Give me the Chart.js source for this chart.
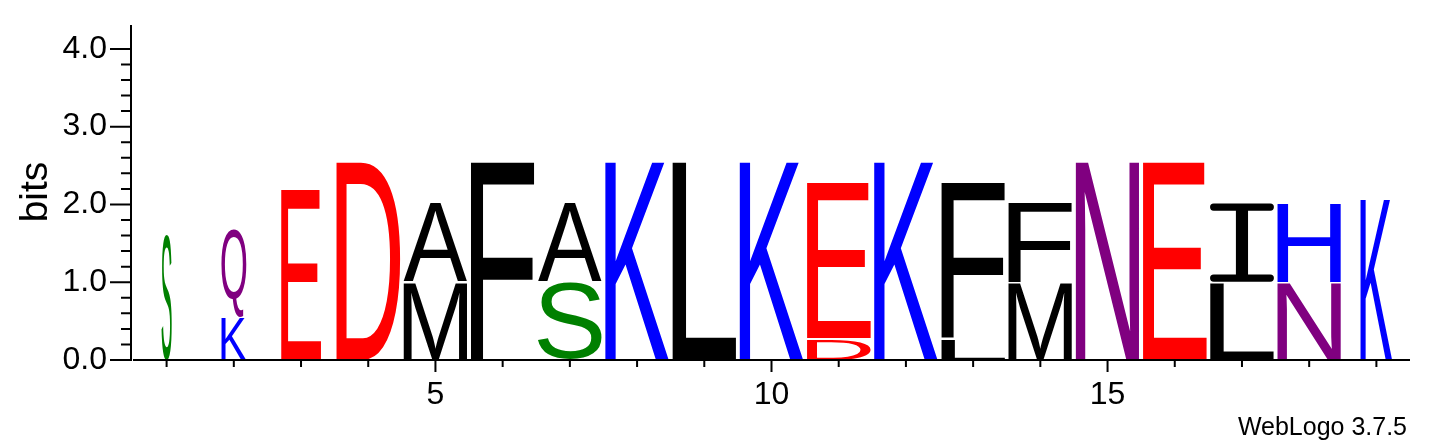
<!DOCTYPE html>
<html>
<head>
<meta charset="utf-8">
<script src="https://cdn.jsdelivr.net/npm/chart.js@4.4.1/dist/chart.umd.min.js"></script>
<style>
  html, body { margin: 0; padding: 0; background: #fff; }
</style>
</head>
<body>
<canvas id="logo" width="1433" height="444"></canvas>
<script>
// sequence positions
const positions = [1, 2, 3, 4, 5, 6, 7, 8, 9, 10, 11, 12, 13, 14, 15, 16, 17, 18, 19];

// letters of each stack, bottom to top
const stackLetters = [
  ['S'], ['K', 'Q'], ['E'], ['D'], ['M', 'A'], ['F'], ['S', 'A'], ['K'], ['L'], ['K'],
  ['D', 'E'], ['K'], ['L', 'F'], ['M', 'F'], ['N'], ['E'], ['L', 'I'], ['N', 'H'], ['K']
];

// height of each letter in bits, same order
const stackBits = [
  [1.63], [0.55, 1.13], [2.21], [2.55], [1.00, 1.02], [2.55], [1.00, 1.02], [2.55], [2.55], [2.55],
  [0.28, 2.00], [2.55], [0.28, 2.00], [1.00, 1.03], [2.55], [2.55], [1.00, 1.02], [1.00, 1.02], [2.07]
];

// fraction of sequences without gap (stack width)
const stackWidths = [0.16, 0.39, 0.625, 1, 1, 1, 1, 1, 1, 1, 1, 1, 1, 1, 1, 1, 1, 1, 0.5];

const yTickLabels = ['0.0', '1.0', '2.0', '3.0', '4.0'];
const xTickLabels = [5, 10, 15];

const letterColours = {
  S: '#008000', T: '#008000', G: '#008000', Y: '#008000', C: '#008000',
  Q: '#800080', N: '#800080',
  K: '#0000ff', R: '#0000ff', H: '#0000ff',
  D: '#ff0000', E: '#ff0000',
  A: '#000000', F: '#000000', I: '#000000', L: '#000000', M: '#000000',
  P: '#000000', V: '#000000', W: '#000000'
};

const FONT = '"Liberation Sans", Arial, Helvetica, sans-serif';

// one floating-bar dataset per stack layer
const layers = [];
const maxDepth = Math.max(...stackLetters.map(s => s.length));
for (let l = 0; l < maxDepth; l++) {
  const pts = [];
  positions.forEach((p, i) => {
    if (!stackLetters[i][l]) return;
    let start = 0;
    for (let k = 0; k < l; k++) start += stackBits[i][k];
    pts.push({ x: p, y: [start, start + stackBits[i][l]], letter: stackLetters[i][l], col: i });
  });
  layers.push({
    data: pts,
    backgroundColor: 'rgba(0,0,0,0)',
    borderWidth: 0,
    grouped: false,
    barPercentage: 0.95,
    categoryPercentage: 1
  });
}

function drawGlyph(ctx, ch, x, y, w, h) {
  const col = letterColours[ch] || '#000';
  ctx.save();
  ctx.fillStyle = col;
  if (ch === 'I') {
    // serif I with rounded bars
    const t = h * 0.093;
    const sw = w * 0.19;
    ctx.fillRect(x + w / 2 - sw / 2, y + t / 2, sw, h - t);
    ctx.strokeStyle = col;
    ctx.lineWidth = t;
    ctx.lineCap = 'round';
    ctx.beginPath();
    ctx.moveTo(x + t / 2, y + t / 2);
    ctx.lineTo(x + w - t / 2, y + t / 2);
    ctx.moveTo(x + t / 2, y + h - t / 2);
    ctx.lineTo(x + w - t / 2, y + h - t / 2);
    ctx.stroke();
  } else {
    ctx.font = '200px ' + FONT;
    ctx.textAlign = 'left';
    ctx.textBaseline = 'alphabetic';
    const m = ctx.measureText(ch);
    const gw = m.actualBoundingBoxLeft + m.actualBoundingBoxRight;
    const gh = m.actualBoundingBoxAscent + m.actualBoundingBoxDescent;
    ctx.translate(x, y);
    ctx.scale(w / gw, h / gh);
    ctx.fillText(ch, m.actualBoundingBoxLeft, m.actualBoundingBoxAscent);
  }
  ctx.restore();
}

const glyphPlugin = {
  id: 'glyphs',
  afterDatasetsDraw(chart) {
    const ctx = chart.ctx;
    chart.data.datasets.forEach((ds, di) => {
      const meta = chart.getDatasetMeta(di);
      meta.data.forEach((bar, j) => {
        const raw = ds.data[j];
        const w = bar.width * stackWidths[raw.col];
        const top = Math.min(bar.y, bar.base);
        const bottom = Math.max(bar.y, bar.base);
        drawGlyph(ctx, raw.letter, bar.x - w / 2, top + 0.5, w, bottom - top - 1);
      });
    });
  }
};

const axesPlugin = {
  id: 'logoAxes',
  afterDraw(chart) {
    const { ctx, chartArea: a, scales: { x, y } } = chart;
    ctx.save();
    ctx.strokeStyle = '#000';
    ctx.lineWidth = 2;
    ctx.beginPath();
    // y axis
    ctx.moveTo(a.left - 2, a.top + 1);
    ctx.lineTo(a.left - 2, a.bottom + 1);
    // x axis
    ctx.moveTo(a.left, a.bottom);
    ctx.lineTo(a.right, a.bottom);
    y.ticks.forEach(t => {
      const v = t.value;
      if (Math.abs(v * 5 - Math.round(v * 5)) > 1e-6) return;
      const py = y.getPixelForValue(v);
      const major = Math.abs(v - Math.round(v)) < 1e-6;
      ctx.moveTo(a.left - 2, py);
      ctx.lineTo(a.left - (major ? 23 : 12), py);
    });
    x.ticks.forEach(t => {
      const px = x.getPixelForValue(t.value);
      ctx.moveTo(px, a.bottom);
      ctx.lineTo(px, a.bottom + (xTickLabels.includes(t.value) ? 12 : 7));
    });
    ctx.stroke();
    ctx.fillStyle = '#000';
    ctx.font = '25px ' + FONT;
    ctx.textAlign = 'right';
    ctx.textBaseline = 'alphabetic';
    ctx.fillText('WebLogo 3.7.5', 1407, 435);
    ctx.restore();
  }
};

new Chart(document.getElementById('logo'), {
  type: 'bar',
  data: { datasets: layers },
  options: {
    responsive: false,
    animation: false,
    layout: { padding: { top: 24, right: 23, left: 0, bottom: 0 } },
    plugins: {
      legend: { display: false },
      tooltip: { enabled: false }
    },
    scales: {
      x: {
        type: 'linear',
        min: 0.5,
        max: 19.5,
        offset: false,
        grid: { display: false, drawTicks: false },
        border: { display: false },
        afterBuildTicks: s => { s.ticks = positions.map(v => ({ value: v })); },
        ticks: {
          autoSkip: false,
          maxRotation: 0,
          padding: 16,
          color: '#000',
          font: { family: FONT, size: 32 },
          callback: v => xTickLabels.includes(v) ? String(v) : ''
        },
        afterFit: s => {
          s.height = 84;
          s.paddingLeft = 0;
          s.paddingRight = 0;
        }
      },
      y: {
        min: 0,
        max: 4.32,
        grid: { display: false, drawTicks: false },
        border: { display: false },
        ticks: {
          stepSize: 0.2,
          autoSkip: false,
          padding: 26,
          color: '#000',
          font: { family: FONT, size: 32 },
          callback: v => {
            const k = Math.round(v);
            return Math.abs(v - k) < 1e-6 && yTickLabels[k] ? yTickLabels[k] : '';
          }
        },
        title: {
          display: true,
          text: 'bits',
          color: '#000',
          font: { family: FONT, size: 39 },
          padding: { top: 13, bottom: 0 }
        },
        afterFit: s => {
          s.width = 133;
          s.paddingTop = 0;
          s.paddingBottom = 0;
        }
      }
    }
  },
  plugins: [glyphPlugin, axesPlugin]
});
</script>
</body>
</html>
